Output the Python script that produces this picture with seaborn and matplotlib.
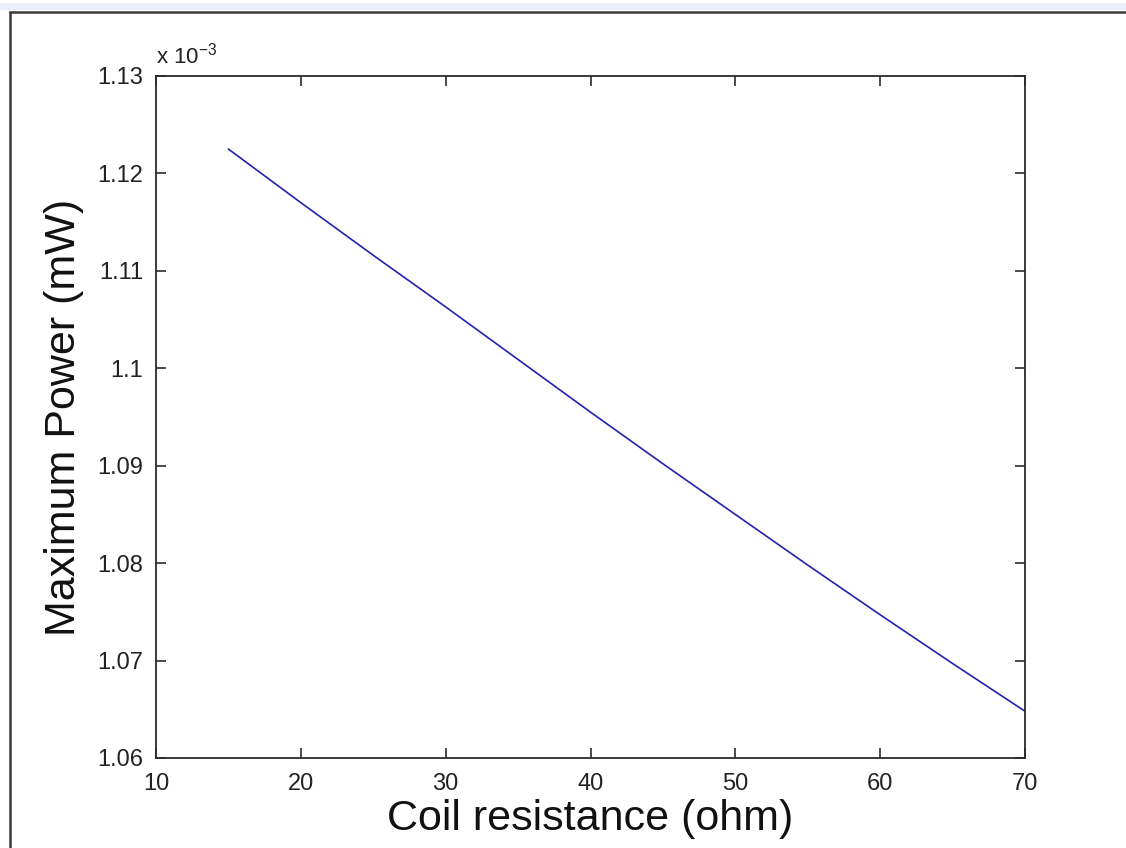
import numpy as np
import matplotlib
matplotlib.use("Agg")
import matplotlib.pyplot as plt
from matplotlib.lines import Line2D
from matplotlib.patches import Rectangle
from matplotlib.ticker import FuncFormatter
import pandas as pd
import seaborn as sns

# values (power in mW)
coil_resistance = [15, 20, 25, 30, 35, 40, 45, 50, 55, 60, 65, 70]
max_power = [1.1225e-3, 1.1170e-3, 1.1116e-3, 1.1063e-3, 1.1009e-3, 1.0955e-3,
             1.0902e-3, 1.0850e-3, 1.0798e-3, 1.0747e-3, 1.0697e-3, 1.0648e-3]
x_ticks = [10, 20, 30, 40, 50, 60, 70]
y_ticks = [1.06e-3, 1.07e-3, 1.08e-3, 1.09e-3, 1.10e-3, 1.11e-3, 1.12e-3, 1.13e-3]

df = pd.DataFrame({'R': coil_resistance, 'P': max_power})

sns.set_style('white')
plt.rcParams['font.family'] = ['Liberation Sans', 'DejaVu Sans']
plt.rcParams['mathtext.fontset'] = 'custom'
plt.rcParams['mathtext.rm'] = 'Liberation Sans'
plt.rcParams['mathtext.it'] = 'Liberation Sans'

fig = plt.figure(figsize=(11.26, 8.48), dpi=100, facecolor='white')

# window frame bits from the screenshot
fig.add_artist(Rectangle((0, 1 - 10 / 848), 1, 7 / 848, transform=fig.transFigure,
                         facecolor='#eaeff9', edgecolor='none'))
fig.add_artist(Line2D([10 / 1126, 1], [1 - 12 / 848, 1 - 12 / 848],
                      transform=fig.transFigure, color='#3a3a3a', lw=1.8))
fig.add_artist(Line2D([10 / 1126, 10 / 1126], [0, 1 - 12 / 848],
                      transform=fig.transFigure, color='#3a3a3a', lw=1.8))

ax = fig.add_axes([156 / 1126, 1 - 758 / 848, 869 / 1126, 682 / 848])

sns.lineplot(data=df, x='R', y='P', ax=ax, color='#2222b0', linewidth=1.2)

ax.set_xlim(10, 70)
ax.set_ylim(1.06e-3, 1.13e-3)
ax.set_xticks(x_ticks)
ax.set_yticks(y_ticks)
ax.yaxis.set_major_formatter(FuncFormatter(lambda v, p: f"{v * 1e3:g}"))

for s in ax.spines.values():
    s.set_color('#2b2b2b')
    s.set_linewidth(1.3)
    s.set_visible(True)

ax.tick_params(axis='both', which='major', direction='in', length=7, width=1.2,
               color='#2b2b2b', labelsize=17, labelcolor='#222222',
               top=True, right=True, bottom=True, left=True)
ax.tick_params(axis='x', pad=11)
ax.tick_params(axis='y', pad=9)

ax.set_xlabel('Coil resistance (ohm)', fontsize=31, color='#111111')
ax.set_ylabel('Maximum Power (mW)', fontsize=31, color='#111111')
ax.xaxis.set_label_coords(0.5, -0.06)
ax.yaxis.set_label_coords(-0.083, 0.5)

ax.text(0.0, 1.019, r'x 10$^{-3}$', transform=ax.transAxes, ha='left', va='baseline',
        fontsize=16, color='#222222')

fig.savefig('out.png', dpi=100, facecolor='white')
